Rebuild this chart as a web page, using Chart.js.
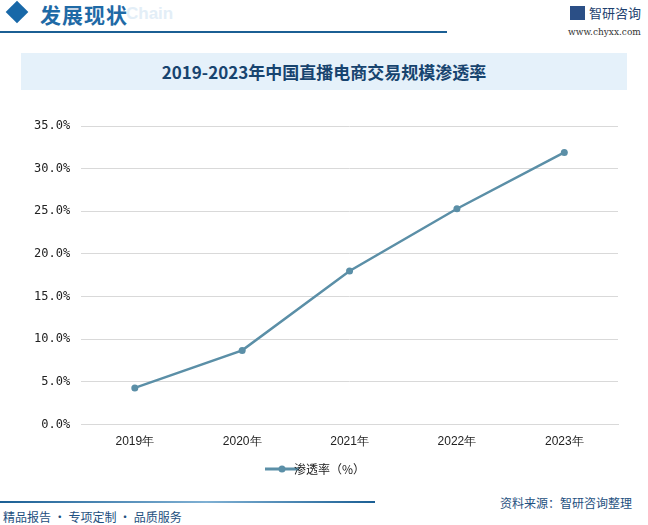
<!DOCTYPE html>
<html>
<head>
<meta charset="utf-8">
<script src="https://cdn.jsdelivr.net/npm/chart.js@4/dist/chart.umd.min.js"></script>
<style>
  body { margin: 0; width: 648px; height: 525px; background: #fff; position: relative; overflow: hidden;
         font-family: "Noto Sans CJK SC", sans-serif; }
  .diamond { position: absolute; left: 9px; top: 4px; width: 16px; height: 16px; background: #1868a8;
             transform: rotate(45deg); }
  .head { position: absolute; left: 40px; top: -1px; font-size: 21px; font-weight: bold; color: #1f6aa6; letter-spacing: 1px; }
  .ghost { position: absolute; left: 126px; top: 4px; font-size: 17px; font-weight: bold; color: #e3eef7; font-family: "Liberation Sans", sans-serif; }
  .topline { position: absolute; left: 0; top: 31px; width: 447px; height: 2px; background: #1b5f94; }
  .logo { position: absolute; left: 570px; top: 3px; font-size: 13px; color: #1d3f6e; }
  .logo b { display: inline-block; width: 15px; height: 14px; background: #2b4f86; vertical-align: -2px; margin-right: 4px; }
  .url { position: absolute; left: 568px; top: 27px; font-size: 9px; color: #333; font-family: "DejaVu Serif", serif; }
  .titlebox { position: absolute; left: 21px; top: 53px; width: 606px; height: 37px; background: #e5f1fa; }
  .title { position: absolute; left: 0; width: 606px; top: 6px; text-align: center; font-size: 17px; font-weight: bold; color: #17446f; }
  #wrap { position: absolute; left: 0; top: 104px; width: 648px; height: 385px; }
  .botline { position: absolute; left: 0; top: 501px; width: 375px; height: 2px;
             background: linear-gradient(to right, #1b5f94, #7fb0d3 55%, #1b5f94); }
  .slogan { position: absolute; left: 3px; top: 508px; font-size: 12px; color: #1d4f80; }
  .source { position: absolute; left: 500px; top: 494px; font-size: 12px; color: #1d4f80; }
</style>
</head>
<body>
<div class="diamond"></div>
<div class="ghost">Chain</div>
<div class="head">发展现状</div>
<div class="topline"></div>
<div class="logo"><b></b>智研咨询</div>
<div class="url">www.chyxx.com</div>
<div class="titlebox"><div class="title">2019-2023年中国直播电商交易规模渗透率</div></div>
<div id="wrap"><canvas id="lineChart"></canvas></div>
<div class="botline"></div>
<div class="slogan">精品报告 · 专项定制 · 品质服务</div>
<div class="source">资料来源：智研咨询整理</div>
<script>
var years = ["2019年", "2020年", "2021年", "2022年", "2023年"];
var penetration = [4.3, 8.7, 18.0, 25.3, 31.9];
var seriesName = "渗透率（%）";

var lineColor = "#5b8fa7";

// legend marker: short line with a dot
var marker = document.createElement("canvas");
marker.width = 34; marker.height = 10;
var mc = marker.getContext("2d");
mc.strokeStyle = lineColor; mc.lineWidth = 3;
mc.beginPath(); mc.moveTo(0, 5); mc.lineTo(34, 5); mc.stroke();
mc.fillStyle = lineColor;
mc.beginPath(); mc.arc(17, 5, 3.5, 0, Math.PI * 2); mc.fill();

var speedCanvas = document.getElementById("lineChart");

var dataFirst = {
  label: seriesName,
  data: penetration,
  borderColor: lineColor,
  backgroundColor: lineColor,
  borderWidth: 2.5,
  pointRadius: 3.5,
  pointBackgroundColor: lineColor,
  pointBorderWidth: 0,
  tension: 0
};

var chartOptions = {
  responsive: false,
  animation: false,
  layout: { padding: { left: 23, right: 30, top: 22, bottom: 4 } },
  plugins: {
    legend: {
      display: true,
      position: "bottom",
      labels: {
        color: "#222",
        font: { family: "Noto Sans CJK SC", size: 12 },
        usePointStyle: true,
        padding: 4,
        generateLabels: function (chart) {
          return [{ text: seriesName, pointStyle: marker, fontColor: "#222", datasetIndex: 0, strokeStyle: lineColor, fillStyle: lineColor, lineWidth: 0 }];
        }
      }
    },
    tooltip: { enabled: false }
  },
  scales: {
    x: {
      offset: true,
      grid: { display: false, drawTicks: false },
      border: { color: "#d9d9d9" },
      ticks: { color: "#222", padding: 10, font: { family: "Liberation Sans", size: 12 } }
    },
    y: {
      min: 0, max: 35,
      grid: { color: "#d9d9d9", drawTicks: false },
      border: { display: false },
      ticks: {
        stepSize: 5, padding: 11, color: "#222",
        font: { family: "DejaVu Sans Mono", size: 12 },
        callback: function (v) { return v.toFixed(1) + "%"; }
      }
    }
  }
};

speedCanvas.width = 648; speedCanvas.height = 385;
var lineChart = new Chart(speedCanvas, {
  type: "line",
  data: { labels: years, datasets: [dataFirst] },
  options: chartOptions
});
</script>
</body>
</html>
